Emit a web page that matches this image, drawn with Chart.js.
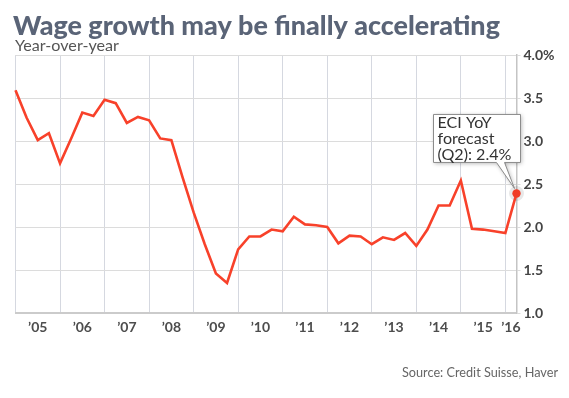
<!DOCTYPE html>
<html>
<head>
<meta charset="utf-8">
<script src="https://cdn.jsdelivr.net/npm/chart.js@4.4.1/dist/chart.umd.min.js"></script>
<style>
  html, body { margin: 0; padding: 0; background: #fff; }
</style>
</head>
<body>
<canvas id="chart" width="569" height="398"></canvas>
<script>
// quarterly ECI wage data, year-over-year %
const quarters = [
  "2005Q1", "2005Q2", "2005Q3", "2005Q4", "2006Q1", "2006Q2", "2006Q3", "2006Q4",
  "2007Q1", "2007Q2", "2007Q3", "2007Q4", "2008Q1", "2008Q2", "2008Q3", "2008Q4",
  "2009Q1", "2009Q2", "2009Q3", "2009Q4", "2010Q1", "2010Q2", "2010Q3", "2010Q4",
  "2011Q1", "2011Q2", "2011Q3", "2011Q4", "2012Q1", "2012Q2", "2012Q3", "2012Q4",
  "2013Q1", "2013Q2", "2013Q3", "2013Q4", "2014Q1", "2014Q2", "2014Q3", "2014Q4",
  "2015Q1", "2015Q2", "2015Q3", "2015Q4", "2016Q1", "2016Q2"
];
const wageYoY = [
  3.59, 3.27, 3.01, 3.09, 2.74, 3.03, 3.33, 3.29,
  3.48, 3.44, 3.21, 3.28, 3.24, 3.03, 3.01, 2.58,
  2.17, 1.80, 1.46, 1.35, 1.74, 1.89, 1.89, 1.97,
  1.95, 2.12, 2.03, 2.02, 2.00, 1.81, 1.90, 1.89,
  1.80, 1.88, 1.85, 1.93, 1.78, 1.97, 2.25, 2.25,
  2.54, 1.98, 1.97, 1.95, 1.93, 2.39
];
const yearLabels = ["’05", "’06", "’07", "’08", "’09", "’10", "’11", "’12", "’13", "’14", "’15", "’16"];
const yTickLabels = ["1.0", "1.5", "2.0", "2.5", "3.0", "3.5", "4.0%"];
const calloutLines = ["ECI YoY", "forecast", "(Q2): 2.4%"];

const lastIdx = wageYoY.length - 1;

// year boundaries (first quarter of each year) and mid-year label spots
const yearStarts = [];
quarters.forEach((q, i) => { if (q.endsWith("Q1")) yearStarts.push(i); });
const yearMids = yearStarts.map((s, k) => {
  const end = k + 1 < yearStarts.length ? yearStarts[k + 1] : lastIdx;
  return (s + end) / 2;
});

function fitFont(ctx, text, weight, size, family, width) {
  ctx.font = weight + " " + size + "px " + family;
  const w = ctx.measureText(text).width;
  return weight + " " + (size * width / w).toFixed(2) + "px " + family;
}

const textPlugin = {
  id: "texts",
  beforeDatasetsDraw(chart) {
    const ctx = chart.ctx;
    const pt = chart.getDatasetMeta(0).data[lastIdx];
    ctx.save();
    ctx.fillStyle = "rgba(0,0,0,0.09)";
    ctx.beginPath();
    ctx.arc(pt.x, pt.y, 7.5, 0, Math.PI * 2);
    ctx.fill();
    ctx.restore();
  },
  afterDraw(chart) {
    const ctx = chart.ctx;
    ctx.save();
    ctx.textBaseline = "alphabetic";

    // title
    const title = "Wage growth may be finally accelerating";
    ctx.font = fitFont(ctx, title, "900", 30, "Lato", 487);
    ctx.fillStyle = "#5a6477";
    ctx.textAlign = "left";
    ctx.fillText(title, 13, 35);

    // subtitle
    const sub = "Year-over-year";
    ctx.font = fitFont(ctx, sub, "400", 13, "Lato", 104);
    ctx.fillStyle = "#555";
    ctx.fillText(sub, 15, 51);

    // source
    const src = "Source: Credit Suisse, Haver";
    ctx.font = fitFont(ctx, src, "400", 12.5, "Lato", 156);
    ctx.fillStyle = "#666";
    ctx.textAlign = "right";
    ctx.fillText(src, 558, 377);

    // callout box for forecast point
    const pt = chart.getDatasetMeta(0).data[lastIdx];
    const L = pt.x - 83, R = pt.x + 4, T = pt.y - 79, B = pt.y - 31;
    ctx.beginPath();
    ctx.moveTo(L, T);
    ctx.lineTo(R, T);
    ctx.lineTo(R, B);
    ctx.lineTo(pt.x - 12, B);
    ctx.lineTo(pt.x - 2, pt.y - 5);
    ctx.lineTo(pt.x - 20, B);
    ctx.lineTo(L, B);
    ctx.closePath();
    ctx.shadowColor = "rgba(0,0,0,0.3)";
    ctx.shadowBlur = 4;
    ctx.shadowOffsetX = 1;
    ctx.shadowOffsetY = 1;
    ctx.fillStyle = "#fff";
    ctx.fill();
    ctx.shadowColor = "transparent";
    ctx.strokeStyle = "#8c8c8c";
    ctx.lineWidth = 1;
    ctx.stroke();

    ctx.font = fitFont(ctx, calloutLines[2], "400", 15, "Lato", 74);
    ctx.fillStyle = "#333";
    ctx.textAlign = "left";
    calloutLines.forEach((line, k) => {
      ctx.fillText(line, L + 4, T + 14 + k * 16);
    });
    ctx.restore();
  }
};

const ctx = document.getElementById("chart");

new Chart(ctx, {
  type: "line",
  data: {
    datasets: [{
      label: "ECI YoY",
      data: wageYoY.map((v, i) => ({ x: i, y: v })),
      borderColor: "#f8412a",
      borderWidth: 2.6,
      tension: 0,
      fill: false,
      clip: false,
      pointRadius: c => c.dataIndex === lastIdx ? 4.2 : 0,
      pointBackgroundColor: "#f03c26",
      pointBorderWidth: 0,
    }],
  },
  options: {
    responsive: false,
    animation: false,
    layout: { padding: { top: 55, left: 15.5, right: 0, bottom: 57 } },
    plugins: {
      legend: { display: false },
      tooltip: { enabled: false },
    },
    scales: {
      x: {
        type: "linear",
        position: "bottom",
        min: 0,
        max: lastIdx,
        afterBuildTicks: s => { s.ticks = yearStarts.map(v => ({ value: v })); },
        afterFit: s => { s.height = 0; },
        ticks: { display: false },
        grid: { color: "#d5d8e0", lineWidth: 1, drawTicks: false },
        border: { color: "#cbcbcb", width: 2 },
      },
      x2: {
        type: "linear",
        position: "bottom",
        min: 0,
        max: lastIdx,
        afterBuildTicks: s => { s.ticks = yearMids.map(v => ({ value: v })); },
        afterFit: s => { s.height = 28; },
        ticks: {
          autoSkip: false,
          maxRotation: 0,
          padding: 6,
          color: "#4d4d4d",
          font: { family: "Lato", weight: "bold", size: 14 },
          callback: (v, i) => yearLabels[i],
        },
        grid: { display: false, drawTicks: false },
        border: { display: false },
      },
      y: {
        position: "right",
        min: 1,
        max: 4,
        afterFit: s => { s.width = 52.5; },
        ticks: {
          stepSize: 0.5,
          padding: 3,
          color: "#444",
          font: { family: "Lato", weight: "bold", size: 14 },
          callback: (v, i) => yTickLabels[i],
        },
        grid: { color: "#dcdcdc", lineWidth: 1, tickLength: 4 },
        border: { color: "#c4c4c4", width: 1.5 },
      },
    },
  },
  plugins: [textPlugin],
});
</script>
</body>
</html>
